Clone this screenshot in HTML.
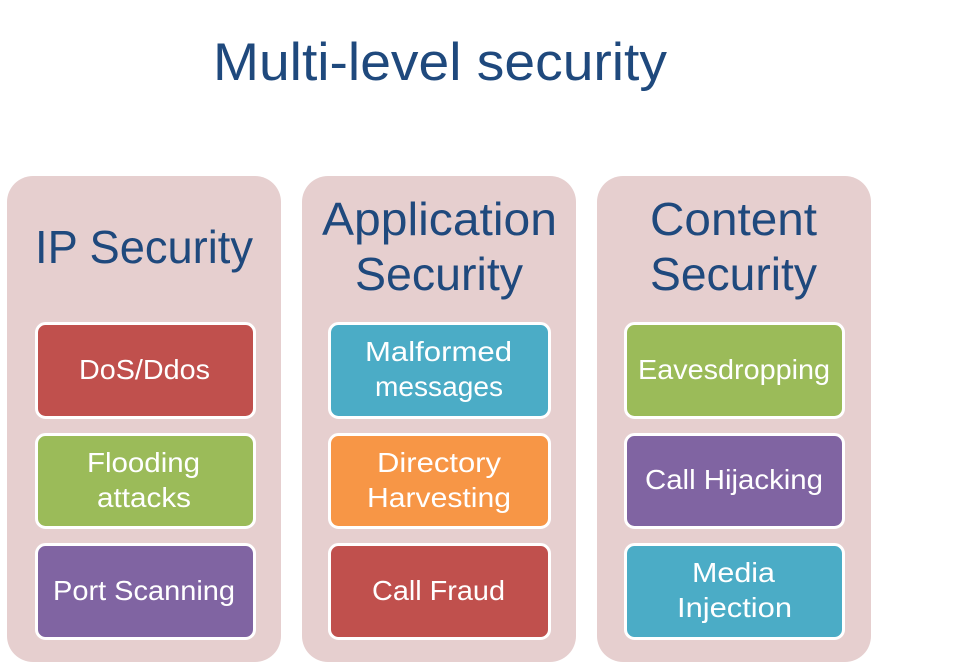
<!DOCTYPE html>
<html><head><meta charset="utf-8"><style>
html,body{margin:0;padding:0;background:#fff;width:975px;height:663px;overflow:hidden}
svg{display:block}
text{font-family:"Liberation Sans",sans-serif}
.h{fill:#1f497d;font-size:46px}
.b{fill:#fff;font-size:28px}
</style></head><body>
<svg width="975" height="663" viewBox="0 0 975 663">
<text x="213" y="80" font-size="53" fill="#1f497d" textLength="454" lengthAdjust="spacingAndGlyphs">Multi-level security</text>
<g fill="#e6cfcf">
<rect x="7" y="176" width="274" height="486" rx="26"/>
<rect x="302" y="176" width="274" height="486" rx="26"/>
<rect x="597" y="176" width="274" height="486" rx="26"/>
</g>
<text class="h" x="35" y="263" textLength="218" lengthAdjust="spacingAndGlyphs">IP Security</text>
<text class="h" x="322" y="235" textLength="235" lengthAdjust="spacingAndGlyphs">Application</text>
<text class="h" x="355" y="290" textLength="168" lengthAdjust="spacingAndGlyphs">Security</text>
<text class="h" x="650" y="235" textLength="167" lengthAdjust="spacingAndGlyphs">Content</text>
<text class="h" x="650" y="290" textLength="167" lengthAdjust="spacingAndGlyphs">Security</text>
<g stroke="#fff" stroke-width="3">
<rect x="36.5" y="323.5" width="218" height="94" rx="9" fill="#c0504d"/>
<rect x="36.5" y="434.5" width="218" height="93" rx="9" fill="#9bbb59"/>
<rect x="36.5" y="544.5" width="218" height="94" rx="9" fill="#8064a2"/>
<rect x="329.5" y="323.5" width="220" height="94" rx="9" fill="#4bacc6"/>
<rect x="329.5" y="434.5" width="220" height="93" rx="9" fill="#f79646"/>
<rect x="329.5" y="544.5" width="220" height="94" rx="9" fill="#c0504d"/>
<rect x="625.5" y="323.5" width="218" height="94" rx="9" fill="#9bbb59"/>
<rect x="625.5" y="434.5" width="218" height="93" rx="9" fill="#8064a2"/>
<rect x="625.5" y="544.5" width="218" height="94" rx="9" fill="#4bacc6"/>
</g>
<text class="b" x="79" y="379" textLength="131" lengthAdjust="spacingAndGlyphs">DoS/Ddos</text>
<text class="b" x="87" y="472" textLength="113" lengthAdjust="spacingAndGlyphs">Flooding</text>
<text class="b" x="97" y="507" textLength="94" lengthAdjust="spacingAndGlyphs">attacks</text>
<text class="b" x="53" y="600" textLength="182" lengthAdjust="spacingAndGlyphs">Port Scanning</text>
<text class="b" x="365" y="361" textLength="147" lengthAdjust="spacingAndGlyphs">Malformed</text>
<text class="b" x="375" y="396" textLength="128" lengthAdjust="spacingAndGlyphs">messages</text>
<text class="b" x="377" y="472" textLength="124" lengthAdjust="spacingAndGlyphs">Directory</text>
<text class="b" x="367" y="507" textLength="144" lengthAdjust="spacingAndGlyphs">Harvesting</text>
<text class="b" x="372" y="600" textLength="133" lengthAdjust="spacingAndGlyphs">Call Fraud</text>
<text class="b" x="638" y="379" textLength="192" lengthAdjust="spacingAndGlyphs">Eavesdropping</text>
<text class="b" x="645" y="489" textLength="178" lengthAdjust="spacingAndGlyphs">Call Hijacking</text>
<text class="b" x="692" y="582" textLength="83" lengthAdjust="spacingAndGlyphs">Media</text>
<text class="b" x="677" y="617" textLength="115" lengthAdjust="spacingAndGlyphs">Injection</text>
</svg>
</body></html>
